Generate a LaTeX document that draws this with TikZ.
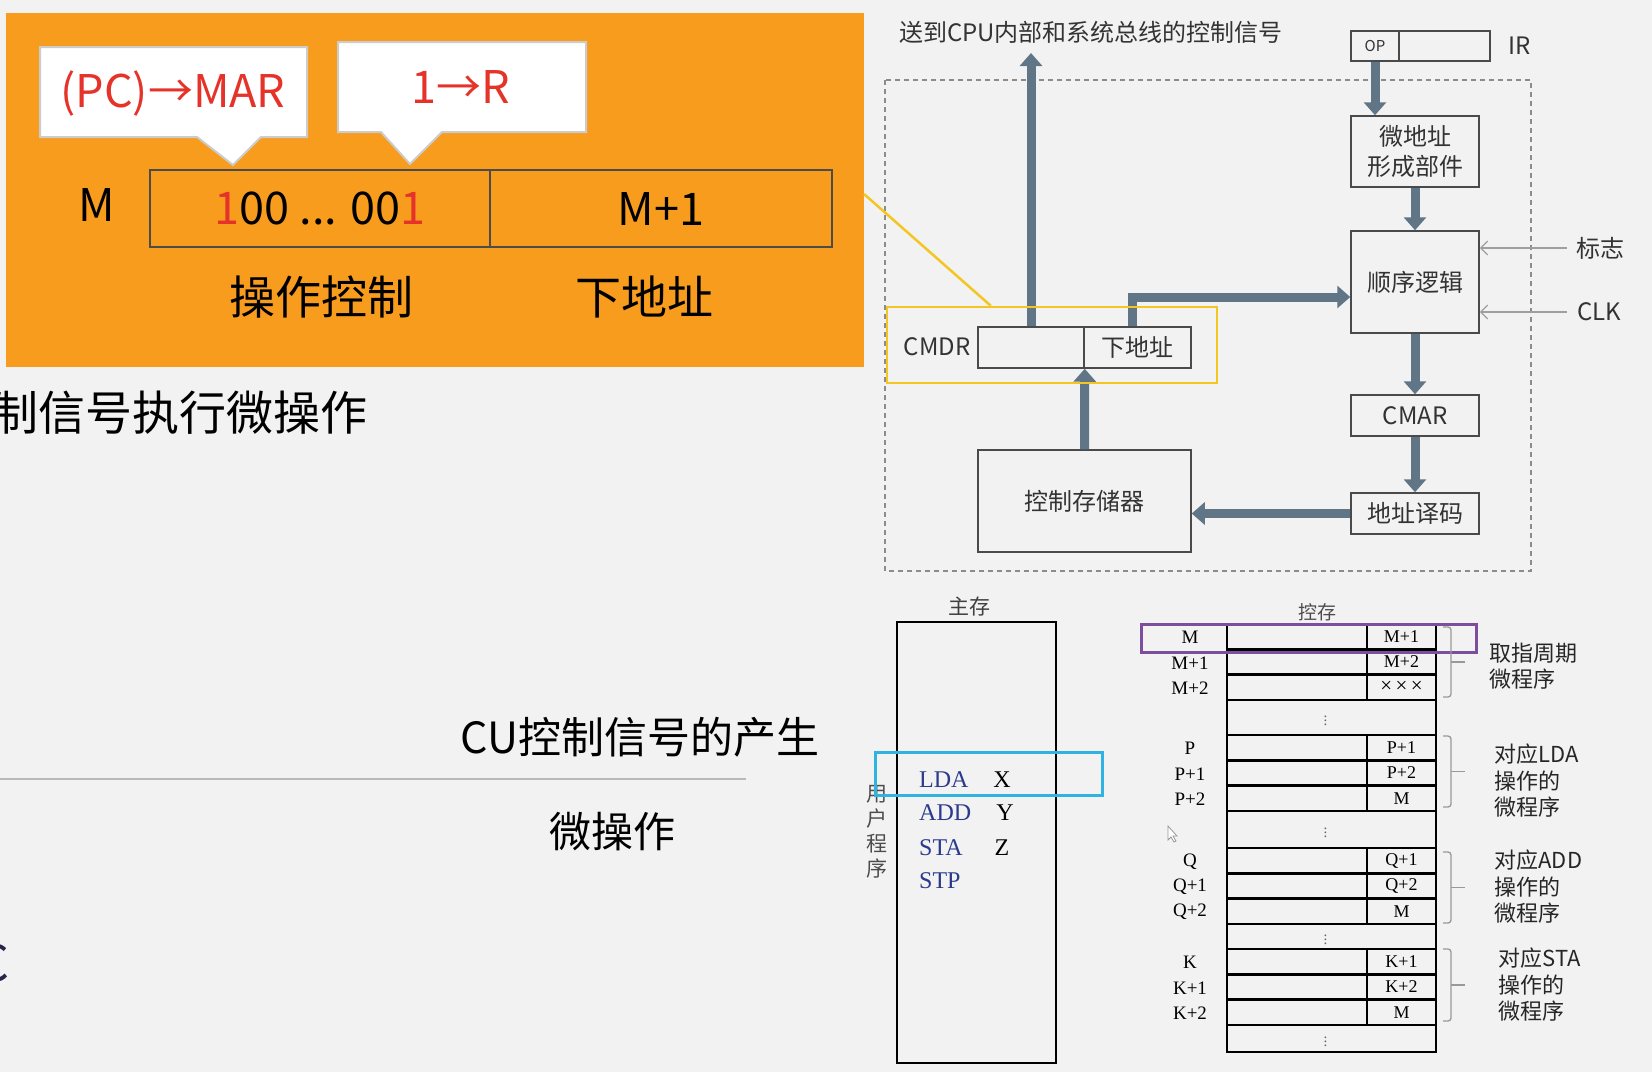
\documentclass[tikz,border=0pt]{standalone}
\usepackage{fontspec}
\setmainfont{Liberation Serif}
\newfontfamily\cjk{Noto Sans CJK SC}
\usetikzlibrary{positioning, arrows.meta, calc}

\definecolor{pagegray}{HTML}{F2F2F2}
\definecolor{panelorange}{HTML}{F89C1E}
\definecolor{hired}{HTML}{E5332A}
\definecolor{busgray}{HTML}{607585}
\definecolor{unitgray}{HTML}{4A4A4A}
\definecolor{focusyellow}{HTML}{F3C623}
\definecolor{progblue}{HTML}{2B3A8C}
\definecolor{fetchpurple}{HTML}{7D4E9E}
\definecolor{ldacyan}{HTML}{2FB3E0}

\tikzset{
	unit/.style={draw=unitgray, line width=1.5pt, inner sep=0pt, align=center,
		font=\cjk\fontsize{24}{30}\selectfont, text=black!80},
	bus/.style={draw=busgray, line width=9pt, -{Triangle[width=22pt,length=13pt]}},
	sense/.style={draw=gray!75, line width=1.3pt, -{Straight Barb[width=14pt,length=7pt]}},
	cell/.style={draw=black, line width=2.4pt, inner sep=0pt, minimum height=25.3pt,
		font=\fontsize{18}{20}\selectfont},
	bigtext/.style={font=\cjk\fontsize{45}{50}\selectfont},
	bubble/.style={fill=white, draw=gray!40, line width=2pt},
	note/.style={font=\cjk\fontsize{22}{26.5}\selectfont, align=left, anchor=west, text=black!85}
}

\begin{document}
\begin{tikzpicture}[x=1pt, y=-1pt]
		
		%Page
		\fill[pagegray] (0,0) rectangle (1652,1072);
		\useasboundingbox (0,0) rectangle (1652,1072);
		
		%Orange panel
		\node (micro) at (434.75,190) [fill=panelorange, minimum width=858.5pt, minimum height=354pt]{};
		\node (M) at (97,205) [bigtext]{M};
		\node (regop) at (320,208.5) [draw=black!70, line width=2pt, minimum width=340pt, minimum height=77pt, 
		bigtext]{{\color{hired}1}00 ... 00{\color{hired}1}};
		\node (regnext) at (661,208.5) [draw=black!70, line width=2pt, minimum width=342pt, minimum height=77pt, 
		bigtext]{M+1};
		\node (opname) at (321,297) [font=\cjk\fontsize{46}{50}\selectfont]{操作控制};
		\node (nextname) at (644,297) [font=\cjk\fontsize{46}{50}\selectfont]{下地址};
		
		%Bubbles
		\draw[bubble] (40,47) -- (307,47) -- (307,137) -- (261,137) -- (233,165) -- (197,137) -- (40,137) -- cycle;
		\node (pcmar) at (173,93) [bigtext, text=hired]{(PC)→MAR};
		\draw[bubble] (338,42) -- (586,42) -- (586,132) -- (442,132) -- (410,164) -- (381,132) -- (338,132) -- cycle;
		\node (oner) at (461,87) [bigtext, text=hired]{1→R};
		
		%Left texts
		\node (exec) at (371,413) [anchor=east, font=\cjk\fontsize{47}{50}\selectfont]{制信号执行微操作};
		\node (cugen) at (640,737) [font=\cjk\fontsize{43}{48}\selectfont]{CU控制信号的产生};
		\draw[gray!55, line width=2pt] (0,779) -- (746,779);
		\node (uop) at (612,832) [font=\cjk\fontsize{42}{46}\selectfont]{微操作};
		\node (cut) at (13,963) [anchor=east, font=\cjk\fontsize{50}{54}\selectfont, text=black!80!blue!70!gray]{C};
		
		%Control unit
		\draw[gray!90, line width=1.5pt, dash pattern=on 5pt off 4pt] (885,80) rectangle (1531,571);
		\node (title) at (1091,32) [font=\cjk\fontsize{24}{28}\selectfont, text=black!80]{送到CPU内部和系统总线的控制信号};
		\node (opfield) at (1375,46) [unit, minimum width=48pt, minimum height=30pt, 
		font=\cjk\fontsize{15}{18}\selectfont]{OP};
		\node (irrest) at (1444.5,46) [unit, minimum width=91pt, minimum height=30pt]{};
		\node (irname) [right=14pt of irrest, font=\cjk\fontsize{24}{28}\selectfont, text=black!80]{IR};
		\node (uaddr) at (1415,151.5) [unit, minimum width=128pt, minimum height=71pt]{微地址\\形成部件};
		\node (seq) at (1415,282) [unit, minimum width=128pt, minimum height=102pt]{顺序逻辑};
		\node (cmar) at (1415,415.5) [unit, minimum width=128pt, minimum height=41pt]{CMAR};
		\node (decode) at (1415,513.5) [unit, minimum width=128pt, minimum height=41pt]{地址译码};
		\node (cstore) at (1084.5,501) [unit, minimum width=213pt, minimum height=102pt]{控制存储器};
		\node (cmdrctl) at (1031,347.5) [unit, minimum width=106pt, minimum height=41pt]{};
		\node (cmdrnext) at (1137.5,347.5) [unit, minimum width=107pt, minimum height=41pt]{下地址};
		\node (cmdrname) at (937,347) [font=\cjk\fontsize{24}{28}\selectfont, text=black!80]{CMDR};
		\coordinate (sigout) at (1031,53);
		
		%Buses
		\draw[bus] (opfield.south) -- (opfield.south |- uaddr.north);
		\draw[bus] (uaddr.south) -- (seq.north);
		\draw[bus] (seq.south) -- (cmar.north);
		\draw[bus] (cmar.south) -- (decode.north);
		\draw[bus] (decode.west) -- (decode.west -| cstore.east);
		\draw[bus] (cstore.north) -- (cmdrctl.south east);
		\draw[bus] (cmdrctl.north) -- (sigout);
		\draw[bus] ([xshift=-5pt]cmdrnext.north) |- ($(seq.west)+(0,15)$);
		
		%Flags and clock
		\coordinate (flagsrc) at (1567,248);
		\coordinate (clksrc) at (1567,312);
		\draw[sense] (flagsrc) -- (seq.east |- flagsrc);
		\draw[sense] (clksrc) -- (seq.east |- clksrc);
		\node (flagname) at (1600,248) [font=\cjk\fontsize{24}{28}\selectfont, text=black!80]{标志};
		\node (clkname) at (1577,312) [anchor=west, inner sep=0pt, font=\cjk\fontsize{24}{28}\selectfont, 
		text=black!80]{CLK};
		
		%Highlight of CMDR
		\node (focus) at (1052,345) [draw=focusyellow, line width=2.5pt, minimum width=330pt, minimum height=76pt]{};
		\draw[focusyellow, line width=2.5pt] (864,194) -- ($(focus.north west)+(105,0)$);
		
		%Main memory
		\node (mainmem) at (976.5,842.5) [draw=black, line width=2.4pt, minimum width=159pt, minimum height=441pt]{};
		\node (mainname) at (969,606) [font=\cjk\fontsize{21}{24}\selectfont, text=black!75]{主存};
		\node (userprog) at (877,832) [font=\cjk\fontsize{21}{25}\selectfont, text=black!70, align=center]{用\\户\\程\\序};
		\node (lda) at (919,780) [anchor=west, inner sep=0pt, font=\fontsize{24}{26}\selectfont, text=progblue]{LDA};
		\node (add) at (919,813) [anchor=west, inner sep=0pt, font=\fontsize{24}{26}\selectfont, text=progblue]{ADD};
		\node (sta) at (919,848) [anchor=west, inner sep=0pt, font=\fontsize{24}{26}\selectfont, text=progblue]{STA};
		\node (stp) at (919,881) [anchor=west, inner sep=0pt, font=\fontsize{24}{26}\selectfont, text=progblue]{STP};
		\node (argx) at (1002,780) [font=\fontsize{24}{26}\selectfont]{X};
		\node (argy) at (1005,813) [font=\fontsize{24}{26}\selectfont]{Y};
		\node (argz) at (1002,848) [font=\fontsize{24}{26}\selectfont]{Z};
		\node (ldabox) at (988.5,773.5) [draw=ldacyan, line width=3pt, minimum width=227pt, minimum height=43pt]{};
		
		%Control memory
		\node (ctlname) at (1317,612) [font=\cjk\fontsize{19}{22}\selectfont, text=black!70]{控存};
		\foreach \rowtop/\rowlab/\rownext [count=\r] in {624/M/M+1, 649.3/M+1/M+2, 674.6/M+2/{\fontsize{21}{21}\selectfont×\,×\,×}, 
			735/P/P+1, 760.3/P+1/P+2, 785.6/P+2/M, 848/Q/Q+1, 873.3/Q+1/Q+2, 898.6/Q+2/M, 
			949/K/K+1, 974.3/K+1/K+2, 999.6/K+2/M}{
			\node[cell, minimum width=140pt] (ucode\r) at (1297,\rowtop+12.65) {};
			\node[cell, minimum width=69pt] (unext\r) at (1401.5,\rowtop+12.65) {\rownext};
			\node[font=\fontsize{19}{20}\selectfont] (uaddr\r) at (1190,\rowtop+13.5) {\rowlab};
		}
		\foreach \dtop/\dh [count=\g] in {700/35, 811/37, 923.9/25.1, 1024.9/27.1}{
			\node[cell, minimum width=209pt, minimum height=\dh pt] (gap\g) at (1331.5,\dtop+\dh/2) {};
			\node[text=gray!80!black, inner sep=0pt] at ([xshift=-6pt]gap\g.center) 
			{\fontsize{15}{15}\selectfont$\vdots$};
		}
		\node (fetchbox) at (1308.5,638) [draw=fetchpurple, line width=3pt, minimum width=335pt, minimum height=28pt]{};
		
		%Braces
		\foreach \btop/\bbot in {627/697, 736/807, 852/923, 949/1021}{
			\draw[gray!80, line width=1.3pt, rounded corners=3pt] (1443,\btop) -- (1451,\btop) -- (1451,\bbot) -- (1443,\bbot);
			\draw[gray!80, line width=1.3pt] (1451,{(\btop+\bbot)/2}) -- (1465,{(\btop+\bbot)/2});
		}
		\node (fetchnote) at (1486,666) [note]{取指周期\\微程序};
		\node (ldanote) at (1491,781) [note]{对应LDA\\操作的\\微程序};
		\node (addnote) at (1491,887) [note]{对应ADD\\操作的\\微程序};
		\node (stanote) at (1495,985) [note]{对应STA\\操作的\\微程序};
		
		%Cursor
		\draw[gray!80, line width=0.8pt, fill=white] (1168,826) -- (1168,840) -- (1171,837) -- (1174,842) -- (1176,841) 
		-- (1173,836) -- (1177,836) -- cycle;
		
		\end{tikzpicture}
\end{document}
